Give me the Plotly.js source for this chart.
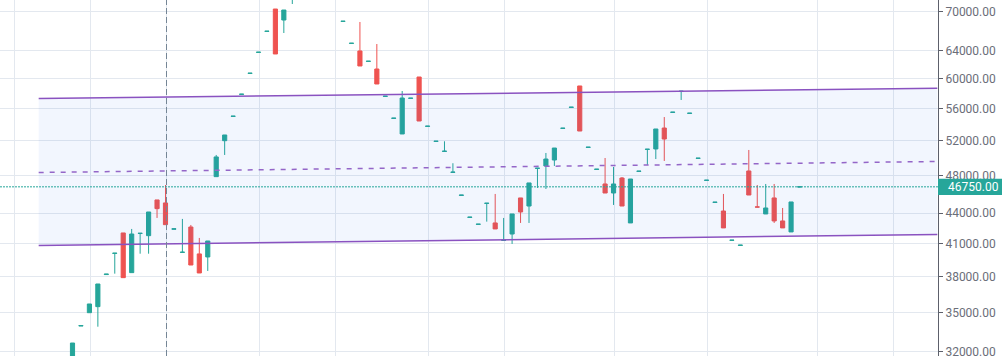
<!DOCTYPE html>
<html><head><meta charset="utf-8">
<script src="https://cdn.plot.ly/plotly-3.0.1.min.js"></script>
<style>html,body{margin:0;padding:0;background:#fff;overflow:hidden}#chart{width:1002px;height:356px}</style>
</head><body><div id="chart"></div>
<script>
// bar index (time) of each candle; bars 27-31 are above the visible price range
const bars  = [0,1,2,3,4,5,6,7,8,9,10,11,12,13,14,15,16,17,18,19,20,21,22,23,24,25,26,
  32,33,34,35,36,37,38,39,40,41,42,43,44,45,46,47,48,49,50,51,52,53,54,55,56,57,58,59,60,
  61,62,63,64,65,66,67,68,69,70,71,72,73,74,75,76,77,78,79,80,81,82,83,84,85,86];
const open  = [30600,33930,34990,35480,38200,40100,42040,38370,41990,41780,45360,45050,42410,40200,42620,40060,39780,47860,51990,54980,57840,60700,63710,66860,70400,68640,72300,
  68420,65040,63920,62400,61320,57570,54730,52800,57310,60200,53730,51900,50720,48330,45840,43570,42880,45000,43020,41330,41940,45570,44730,48780,49050,49730,53480,56130,58970,
  51190,48660,47060,46090,47710,43020,48440,50960,51010,53530,55490,58240,55360,49910,47450,45100,44220,41330,40850,48490,44640,43920,45570,43220,42140,46740];
const high  = [32630,33970,35700,37380,38240,40130,42040,42430,42010,44120,45360,46950,42440,43420,42820,41560,41270,50310,52680,55010,57870,60730,63740,66900,70400,70240,73500,
  68450,65070,68330,62430,64950,57600,54760,58290,57340,60200,53760,51930,51920,49360,45870,43600,42900,45020,45990,43520,43920,45570,47170,48800,50540,51120,53510,56160,58970,
  51220,48690,49960,48940,47820,47600,48470,50980,53410,54900,55520,58260,55390,49940,47470,45130,45990,41350,40880,50890,46950,47060,47060,44530,45150,46750];
const low   = [30400,33930,34990,33880,38200,38280,37930,38370,40080,40080,43520,42850,42410,40200,39050,38340,38520,47860,50310,54980,57840,60700,63710,66860,63480,66620,71220,
  68420,65040,61750,62400,59240,57570,54730,52800,57310,54400,53730,51900,50720,48330,45840,43570,42880,43150,42430,41330,40990,43020,43020,46630,46520,49050,53480,56130,53160,
  51190,48660,46090,44840,44730,43020,48440,49160,49840,49620,55490,57100,55360,49910,47450,45100,42530,41330,40850,45880,44620,43920,43020,42530,42140,46740];
const close = [32630,33970,35700,37380,38240,40130,37930,41940,42010,44120,44460,42850,42440,40220,39050,38340,41270,50080,52680,55010,57870,60730,63740,66900,63480,70240,73000,
  68450,65070,61750,62430,59240,57600,54760,57360,57340,54400,53760,51930,50750,48360,45870,43600,42900,45020,42430,41350,43920,44120,47170,48800,49840,51120,53510,56160,53160,
  51220,48690,46090,47060,44730,47600,48470,50980,53410,52190,55520,58260,55390,49940,47470,45130,42530,41350,40880,45880,44620,44530,43220,42530,45150,46750];

// parallel channel drawing (start / end bar and prices)
const channelBars  = [-4, 102.3];
const channelUpper = [57295, 58650];
const channelMid   = [48320, 49560];
const channelLower = [40845, 41895];

const lastPrice = 46750;
const crosshairBar = 11;
const gridBars = [-7, 2, 11, 22, 31, 42, 51, 64, 75, 88, 97];
const priceTicks = [32000, 35000, 38000, 41000, 44000, 48000, 52000, 56000, 60000, 64000, 70000];
const priceTickLabels = ['32000.00','35000.00','38000.00','41000.00','44000.00','48000.00','52000.00','56000.00','60000.00','64000.00','70000.00'];

const xRange = [-8.576, 102.38];
const yRange = [4.50064, 4.85660];
const purple = '#8a52c0';

const traces = [
  {type:'scatter', mode:'lines', x:channelBars, y:channelLower, line:{color:purple, width:1.5}, hoverinfo:'skip'},
  {type:'scatter', mode:'lines', x:channelBars, y:channelUpper, line:{color:purple, width:1.5},
   fill:'tonexty', fillcolor:'rgba(33,96,243,0.06)', hoverinfo:'skip'},
  {type:'scatter', mode:'lines', x:channelBars, y:channelMid, line:{color:'#9466c8', width:1.5, dash:'5px,6px'}, hoverinfo:'skip'},
  {type:'scatter', mode:'lines', x:xRange, y:[lastPrice, lastPrice], line:{color:'#26a69a', width:1, dash:'2px,1px'}, hoverinfo:'skip'},
  {type:'candlestick', x:bars, open:open, high:high, low:low, close:close,
   increasing:{line:{color:'#26a69a', width:1}, fillcolor:'#26a69a'},
   decreasing:{line:{color:'#ef5350', width:1}, fillcolor:'#ef5350'},
   whiskerwidth:0, hoverinfo:'skip'}
];

const frac = (Math.log10(lastPrice) - yRange[0]) / (yRange[1] - yRange[0]);
const layout = {
  width:1002, height:356, margin:{l:0, r:64, t:0, b:0},
  paper_bgcolor:'#ffffff', plot_bgcolor:'#ffffff', showlegend:false, hovermode:false,
  xaxis:{range:xRange, showticklabels:false, tickvals:gridBars.map(b => b + 0.12), ticks:'',
    showgrid:true, gridcolor:'#e3e8ef', gridwidth:1, zeroline:false, showline:false,
    rangeslider:{visible:false}, fixedrange:true},
  yaxis:{type:'log', range:yRange, side:'right', tickvals:priceTicks, ticktext:priceTickLabels,
    ticks:'outside', ticklen:4, tickwidth:1, tickcolor:'#5d606b', showline:true, linecolor:'#5d606b', linewidth:1,
    showgrid:true, gridcolor:'#e3e8ef', gridwidth:1, zeroline:false, fixedrange:true, ticklabeloverflow:'allow',
    tickfont:{family:'Roboto, Arial, sans-serif', size:12, color:'#6b6e79'}},
  shapes:[
    {type:'line', xref:'x', yref:'paper', x0:crosshairBar + 0.12, x1:crosshairBar + 0.12, y0:0, y1:1,
     line:{color:'#758696', width:1, dash:'6px,3px'}, layer:'above'},
    {type:'rect', xref:'paper', yref:'paper', x0:1, x1:1 + 66/938, y0:frac - 8.15/356, y1:frac + 8.15/356,
     fillcolor:'#26a69a', line:{width:0}, layer:'above'}
  ],
  annotations:[
    {xref:'paper', x:1, xanchor:'left', xshift:8, yref:'y', y:Math.log10(lastPrice), yanchor:'middle',
     text:lastPrice.toFixed(2), showarrow:false, font:{family:'Roboto, Arial, sans-serif', size:12, color:'#ffffff'}}
  ]
};
Plotly.newPlot('chart', traces, layout, {staticPlot:true, displayModeBar:false});
</script></body></html>
